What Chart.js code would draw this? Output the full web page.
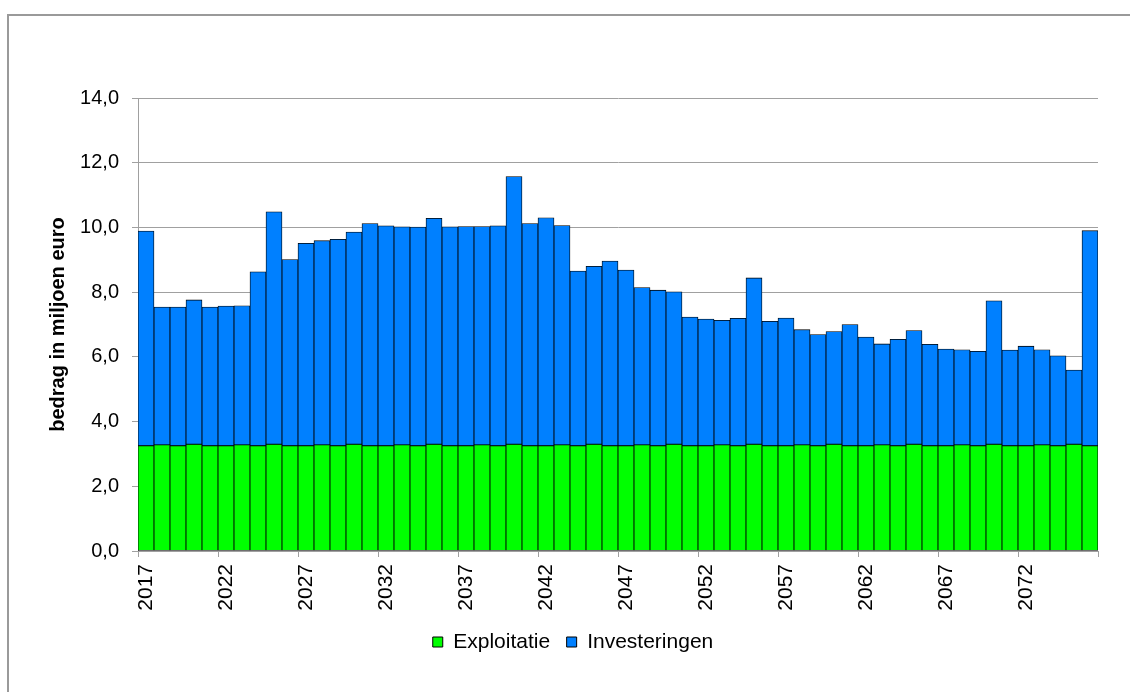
<!DOCTYPE html>
<html>
<head>
<meta charset="utf-8">
<script src="https://cdn.jsdelivr.net/npm/chart.js@4/dist/chart.umd.min.js"></script>
<style>
  html, body { margin: 0; padding: 0; background: #fff; }
  #wrap { position: relative; width: 1130px; height: 692px; overflow: hidden; }
  #frame { position: absolute; left: 7px; top: 14px; width: 1200px; height: 800px;
           border-left: 2px solid #9a9a9a; border-top: 2px solid #9a9a9a; }
  canvas { position: absolute; left: 0; top: 0; }
</style>
</head>
<body>
<div id="wrap">
  <div id="frame"></div>
  <canvas id="c" width="1130" height="692"></canvas>
</div>
<script>
const years = ["2017","2018","2019","2020","2021","2022","2023","2024","2025","2026",
  "2027","2028","2029","2030","2031","2032","2033","2034","2035","2036",
  "2037","2038","2039","2040","2041","2042","2043","2044","2045","2046",
  "2047","2048","2049","2050","2051","2052","2053","2054","2055","2056",
  "2057","2058","2059","2060","2061","2062","2063","2064","2065","2066",
  "2067","2068","2069","2070","2071","2072","2073","2074","2075","2076"];

const exploitatie = [3.25,3.28,3.25,3.30,3.25, 3.25,3.28,3.25,3.30,3.25,
  3.25,3.28,3.25,3.30,3.25, 3.25,3.28,3.25,3.30,3.25,
  3.25,3.28,3.25,3.30,3.25, 3.25,3.28,3.25,3.30,3.25,
  3.25,3.28,3.25,3.30,3.25, 3.25,3.28,3.25,3.30,3.25,
  3.25,3.28,3.25,3.30,3.25, 3.25,3.28,3.25,3.30,3.25,
  3.25,3.28,3.25,3.30,3.25, 3.25,3.28,3.25,3.30,3.25];

const investeringen = [6.64,4.26,4.29,4.46,4.29, 4.32,4.30,5.38,7.18,5.76,
  6.26,6.31,6.38,6.56,6.87, 6.80,6.74,6.76,6.98,6.77,
  6.78,6.75,6.80,8.27,6.87, 7.05,6.78,5.40,5.50,5.71,
  5.43,4.86,4.81,4.71,3.98, 3.92,3.85,3.94,5.14,3.85,
  3.95,3.56,3.44,3.48,3.75, 3.36,3.12,3.29,3.51,3.14,
  2.99,2.94,2.92,4.43,2.96, 3.08,2.94,2.78,2.29,6.65];

const yTicks = [0, 2, 4, 6, 8, 10, 12, 14];

const FONT = "'Liberation Sans', Arial, Helvetica, sans-serif";
const GRID = '#a0a0a0';

new Chart(document.getElementById('c'), {
  type: 'bar',
  data: {
    labels: years,
    datasets: [
      { label: 'Exploitatie', data: exploitatie, backgroundColor: '#00ff00',
        borderColor: '#000', borderWidth: 0.8, borderSkipped: false },
      { label: 'Investeringen', data: investeringen, backgroundColor: '#0080ff',
        borderColor: '#000', borderWidth: 0.8, borderSkipped: false }
    ]
  },
  options: {
    responsive: false,
    animation: false,
    devicePixelRatio: 1,
    datasets: { bar: { barPercentage: 1, categoryPercentage: 1 } },
    layout: { padding: { left: 48, right: 32, top: 98, bottom: 29.5 } },
    plugins: {
      tooltip: { enabled: false },
      legend: {
        position: 'bottom',
        labels: {
          boxWidth: 10, boxHeight: 10, padding: 16.5, color: '#000',
          font: { family: FONT, size: 21 },
          generateLabels: chart => chart.data.datasets.map((ds, i) => ({
            text: ds.label, fillStyle: ds.backgroundColor, strokeStyle: '#000',
            lineWidth: 1, hidden: false, datasetIndex: i, fontColor: '#000'
          }))
        }
      }
    },
    scales: {
      x: {
        stacked: true,
        offset: true,
        afterFit: s => { s.height = 64; },
        grid: {
          offset: true, drawOnChartArea: false, drawTicks: true, tickLength: 6,
          color: ctx => (ctx.index === undefined || ctx.index % 5 === 0) ? GRID : 'rgba(0,0,0,0)'
        },
        border: { display: true, color: GRID, width: 1 },
        ticks: {
          autoSkip: false, maxRotation: 90, minRotation: 90, padding: 7,
          color: '#000', font: { family: FONT, size: 21 },
          callback: (v, i) => (i % 5 === 0 ? years[i] : '')
        }
      },
      y: {
        stacked: true,
        min: yTicks[0], max: yTicks[yTicks.length - 1],
        afterFit: s => { s.width = 90; },
        afterBuildTicks: s => { s.ticks = yTicks.map(v => ({ value: v })); },
        grid: { color: GRID, tickLength: 6, drawTicks: true },
        border: { display: true, color: GRID, width: 1 },
        ticks: {
          padding: 13, color: '#000', font: { family: FONT, size: 20 },
          callback: v => Number(v).toFixed(1).replace('.', ',')
        },
        title: {
          display: true, text: 'bedrag in miljoen euro', color: '#000',
          padding: { top: 0, bottom: 0 },
          font: { family: FONT, size: 20, weight: 'bold', lineHeight: 1 }
        }
      }
    }
  }
});
</script>
</body>
</html>
